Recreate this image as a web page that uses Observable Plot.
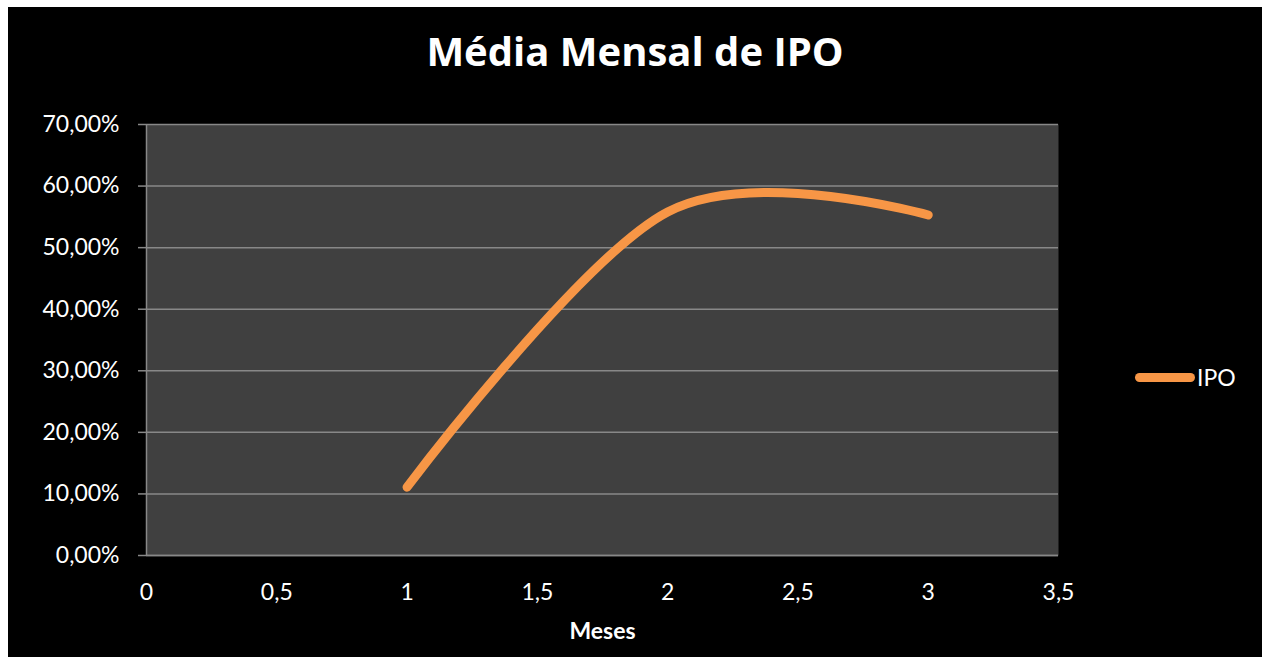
<!DOCTYPE html>
<html>
<head>
<meta charset="utf-8">
<script src="https://cdn.jsdelivr.net/npm/d3@7"></script>
<script src="https://cdn.jsdelivr.net/npm/@observablehq/plot@0.6"></script>
<style>
  html, body { margin: 0; padding: 0; background: #fff; }
  #chart { position: absolute; left: 8px; top: 7px; width: 1254px; height: 650px; background: #000; overflow: hidden; }
  #title { position: absolute; left: 0; top: 21px; width: 100%; text-align: center; color: #fff;
           font-family: "Open Sans", Lato, sans-serif; font-weight: bold; font-size: 40px; line-height: 46px; }
  #plot { position: absolute; left: 0; top: 90px; }
  #legend { position: absolute; left: 1127px; top: 356px; display: flex; align-items: center; color: #fff;
            font-family: Lato, "Open Sans", sans-serif; font-size: 23px; }
  #legend .sw { width: 60px; height: 9px; border-radius: 5px; background: #F79646; margin-right: 2px; }
  #plot svg [aria-label="x-axis label"] text { font-weight: bold; }
</style>
</head>
<body>
<div id="chart">
  <div id="title">Média Mensal de IPO</div>
  <div id="plot"></div>
  <div id="legend"><div class="sw"></div><span>IPO</span></div>
</div>
<script>
const meses = [1, 2, 3];
const ipo = [0.111, 0.558, 0.553];
const seriesName = "IPO";
const xTicks = [0, 0.5, 1, 1.5, 2, 2.5, 3, 3.5];
const yTicks = [0, 0.1, 0.2, 0.3, 0.4, 0.5, 0.6, 0.7];

const data = meses.map((m, i) => ({ mes: m, valor: ipo[i], serie: seriesName }));
const fmtX = d => String(d).replace(".", ",");
const fmtY = d => (d * 100).toFixed(2).replace(".", ",") + "%";

const chart = Plot.plot({
  width: 1254,
  height: 560,
  marginTop: 27,
  marginBottom: 102,
  marginLeft: 138,
  marginRight: 204,
  style: { background: "transparent", color: "#fff", fontFamily: "Lato, 'Open Sans', sans-serif", fontSize: "23px" },
  x: { domain: [0, 3.5], ticks: xTicks, tickFormat: fmtX, tickSize: 0, tickPadding: 28,
       label: "Meses", labelAnchor: "center", labelArrow: "none", labelOffset: 83 },
  y: { domain: [0, 0.7], ticks: yTicks, tickFormat: fmtY, tickSize: 8, tickPadding: 19, label: null },
  marks: [
    Plot.frame({ fill: "#404040", stroke: null }),
    Plot.gridY(yTicks, { stroke: "#888888", strokeOpacity: 1, strokeWidth: 1.5 }),
    Plot.ruleX([0], { stroke: "#888888", strokeWidth: 1.5 }),
    Plot.ruleY([0], { stroke: "#888888", strokeWidth: 1.5 }),
    Plot.axisY({ ticks: yTicks, tickFormat: fmtY, tickSize: 8, tickPadding: 19, stroke: "#888888", strokeWidth: 1.5, fill: "#fff", label: null }),
    Plot.axisX({ ticks: xTicks, tickFormat: fmtX, tickSize: 0, tickPadding: 28, fill: "#fff",
                 label: "Meses", labelAnchor: "center", labelArrow: "none", labelOffset: 83 }),
    Plot.line(data, { x: "mes", y: "valor", curve: "cardinal", stroke: "#F79646", strokeWidth: 9,
                      strokeLinecap: "round", strokeLinejoin: "round" })
  ]
});
document.getElementById("plot").appendChild(chart);
</script>
</body>
</html>
